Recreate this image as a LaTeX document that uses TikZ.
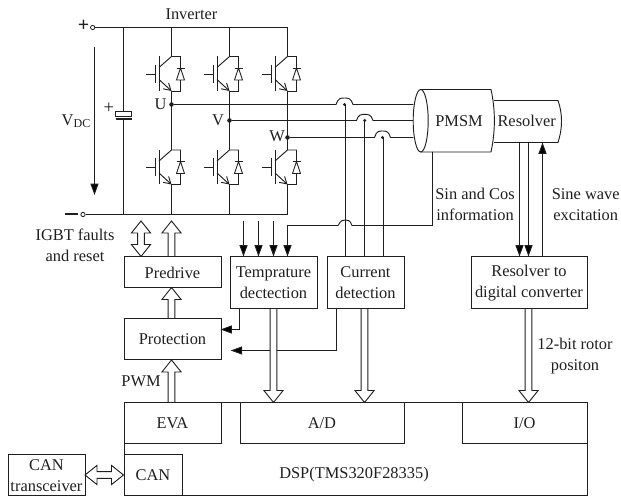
\documentclass[tikz,border=0pt]{standalone}
\usepackage{fontspec}
\setmainfont{Liberation Serif}
\usetikzlibrary{arrows.meta,calc}
\definecolor{ink}{gray}{0.12}
\tikzset{
  x=0.75pt,y=-0.75pt,
  wire/.style={draw=ink,line width=0.7pt},
  tipw/.style={wire,-{Triangle[length=8.5pt,width=6pt,fill=black]}},
  block/.style={draw=ink,line width=0.7pt,fill=white,inner sep=0pt,anchor=north west,align=center},
  lbl/.style={draw=none,inner sep=0pt,align=center,text=ink,font=\fontsize{12.3}{15.8}\selectfont},
  hol/.style={draw=ink,line width=0.7pt,fill=white,line join=miter},
  jdot/.style={circle,fill=ink,draw=none,inner sep=0pt,minimum size=3.4pt},
  term/.style={circle,fill=white,draw=ink,line width=0.6pt,inner sep=0pt,minimum size=3.2pt},
}
% hollow single arrow from #1 to #2
\newcommand\hollowone[2]{%
  \draw[hol] ($#1!2.5pt!90:#2$) -- ($($#2!9pt!#1$)!2.5pt!-90:#1$) -- ($($#2!9pt!#1$)!7.2pt!-90:#1$) -- #2 --
   ($($#2!9pt!#1$)!7.2pt!90:#1$) -- ($($#2!9pt!#1$)!2.5pt!90:#1$) -- ($#1!2.5pt!-90:#2$) -- cycle;}
% hollow double arrow between #1 and #2
\newcommand\hollowtwo[2]{%
  \draw[hol] #1 -- ($($#1!9pt!#2$)!7.2pt!90:#2$) -- ($($#1!9pt!#2$)!2.5pt!90:#2$) -- ($($#2!9pt!#1$)!2.5pt!-90:#1$) -- ($($#2!9pt!#1$)!7.2pt!-90:#1$) -- #2 --
   ($($#2!9pt!#1$)!7.2pt!90:#1$) -- ($($#2!9pt!#1$)!2.5pt!90:#1$) -- ($($#1!9pt!#2$)!2.5pt!-90:#2$) -- ($($#1!9pt!#2$)!7.2pt!-90:#2$) -- cycle;}
% IGBT with its diode: #1 is the collector top point
\newcommand\igbt[1]{%
\begin{scope}[shift={#1}]
  \draw[wire] (-26,17.5) -- (-16,17.5) (-16,8.5) -- (-16,26.5);
  \draw[wire] (-12.5,0) -- (-12.5,34.5);
  \draw[wire] (-12.5,11) -- (0,0) -- (9,0) -- (9,11.5);
  \draw[wire,-{Straight Barb[length=5pt,width=6pt]}] (-12.5,23) -- (0,34.5);
  \draw[wire] (0,34.5) -- (9,34.5) -- (9,23.5);
  \draw[wire] (5,11.5) -- (13,11.5);
  \draw[wire] (9,11.5) -- (5,23.5) -- (13,23.5) -- cycle;
\end{scope}}
\begin{document}
\begin{tikzpicture}
\useasboundingbox (0,0) rectangle (621,498);
% power rails
\node[term] (tp) at (92.7,27.5) {};
\node[term] (tn) at (83,214.5) {};
\coordinate (railtr) at (287.5,27.5);
\coordinate (railbr) at (287.5,214.5);
\draw[wire] (tp) -- (railtr) -- (287.5,56.5);
\draw[wire] (tn) -- (railbr);
\draw[wire] (171.5,27.5) -- (171.5,56.5) (229.5,27.5) -- (229.5,56.5);
\draw[wire] (171.5,91) -- (171.5,150) (229.5,91) -- (229.5,150) (287.5,91) -- (287.5,150);
\draw[wire] (171.5,184.5) -- (171.5,214.5) (229.5,184.5) -- (229.5,214.5) (287.5,184.5) -- (287.5,214.5);
\igbt{(171.5,56.5)}\igbt{(229.5,56.5)}\igbt{(287.5,56.5)}
\igbt{(171.5,150)}\igbt{(229.5,150)}\igbt{(287.5,150)}
% capacitor
\draw[wire] (123.5,27.5) -- (123.5,111.5);
\draw[hol] (115.5,111.5) rectangle (131.5,116);
\draw[wire,line width=1pt] (115.5,119) -- (131.5,119);
\draw[wire] (123.5,119) -- (123.5,214.5);
% labels of the power stage
\node[lbl] (linv) at (191.5,14) {Inverter};
\node[lbl,font=\fontsize{15}{15}\selectfont\bfseries] (lp) at (83.5,25.5) {+};
\node[lbl,font=\fontsize{14}{14}\selectfont] (lcp) at (109,108) {+};
\draw[wire,line width=1.6pt] (65,214.4) -- (78,214.4);
\node[lbl] (lvdc) at (76,121) {V\raisebox{-0.25ex}{\fontsize{9}{9}\selectfont DC}};
\coordinate (va) at (94.5,46.7);
\coordinate (vb) at (94.5,195);
\draw[tipw] (va) -- (vb);
\node[lbl] (lu) at (160.5,104) {U};
\node[lbl] (lv) at (218,120.5) {V};
\node[lbl] (lw) at (277,136) {W};
% motor
\coordinate (mtl) at (420.7,89.5);
\coordinate (mbl) at (420.7,152);
\draw[wire] (494,100.5) -- (558,100.5) .. controls (562.7,114) and (562.7,128) .. (558,142.5) -- (494,142.5);
\draw[wire] (mtl) -- (491,89.5) .. controls (495.5,110) and (495.5,131) .. (491,152) -- (mbl);
\draw[wire] (420.7,120.75) ellipse [x radius=7.5,y radius=31.25];
\node[lbl] (lpmsm) at (459,121) {PMSM};
\node[lbl] (lres) at (526.7,121) {Resolver};
% phase wires with hops
\node[jdot] (du) at (171.5,104.5) {};
\node[jdot] (dv) at (229.5,120.5) {};
\node[jdot] (dw) at (287.5,137.5) {};
\draw[wire] (du) -- (336,104.5) .. controls (338,98) and (341,98) .. (344.5,98) .. controls (348,98) and (351,98) .. (353,104.5) -- (413.4,104.5);
\draw[wire] (dv) -- (356.5,120.5) .. controls (358.5,114.4) and (361,114.4) .. (364.7,114.4) .. controls (368.5,114.4) and (371,114.4) .. (373,120.5) -- (413.2,120.5);
\draw[wire] (dw) -- (374.5,137.5) .. controls (376.5,131) and (379,131) .. (382.5,131) .. controls (386,131) and (388.5,131) .. (390.5,137.5) -- (413.4,137.5);
% blocks
\node[block,minimum width=97*0.75pt,minimum height=31*0.75pt] (predrive) at (123.5,256.5) {};
\node[lbl] at (predrive.center) {Predrive};
\node[block,minimum width=97*0.75pt,minimum height=41*0.75pt] (protection) at (123.5,318.5) {};
\node[lbl] at (protection.center) {Protection};
\node[block,minimum width=87*0.75pt,minimum height=52*0.75pt] (temp) at (229.5,256.5) {};
\node[lbl] at (temp.center) {Temprature\\dectection};
\node[block,minimum width=77*0.75pt,minimum height=52*0.75pt] (cur) at (326.5,256.5) {};
\node[lbl] at (cur.center) {Current\\detection};
\node[block,minimum width=116*0.75pt,minimum height=52*0.75pt] (rdc) at (470.5,256.5) {};
\node[lbl] at (rdc.center) {Resolver to\\digital converter};
\node[block,minimum width=463*0.75pt,minimum height=93*0.75pt] (dsp) at (123.5,402.5) {};
\node[lbl] at (354,475) {DSP(TMS320F28335)};
\node[block,minimum width=97*0.75pt,minimum height=41*0.75pt] (eva) at (123.5,402.5) {};
\node[lbl] at (eva.center) {EVA};
\node[block,minimum width=164*0.75pt,minimum height=41*0.75pt] (ad) at (239.5,402.5) {};
\node[lbl] at (ad.center) {A/D};
\node[block,minimum width=125*0.75pt,minimum height=41*0.75pt] (io) at (461.5,402.5) {};
\node[lbl] at (io.center) {I/O};
\node[block,minimum width=58*0.75pt,minimum height=41*0.75pt] (can) at (123.5,454.5) {};
\node[lbl] at (can.center) {CAN};
\node[block,minimum width=77*0.75pt,minimum height=41*0.75pt] (tr) at (7.5,454.5) {};
\node[lbl] at (tr.center) {CAN\\transceiver};
% sensing wires
\draw[wire] (345.5,104.5) -- (345.5,256.5);
\draw[wire] (364.5,120.5) -- (364.5,256.5);
\draw[wire] (383.5,137.5) -- (383.5,256.5);
\node[jdot,minimum size=2.5pt] at (344.5,104.5) {};
\node[jdot,minimum size=2.5pt] at (364.7,120.5) {};
\node[jdot,minimum size=2.5pt] at (382.5,137.5) {};
\draw[wire] (432.5,152) -- (432.5,225.5) -- (352,225.5) .. controls (350,220) and (348,220) .. (345.5,220) .. controls (343,220) and (341,220) .. (338,225.5) -- (287.5,225.5);
\draw[tipw] (287.5,225.5) -- (287.5,256.5);
\draw[tipw] (243.5,221) -- (243.5,256.5);
\draw[tipw] (258.5,221) -- (258.5,256.5);
\draw[tipw] (273.5,221) -- (273.5,256.5);
\draw[tipw] (239.5,308.5) -- (239.5,329.5) -- (220.5,329.5);
\draw[tipw] (336.5,308.5) -- (336.5,350.5) -- (230.7,350.5);
% resolver wires
\draw[tipw] (519.5,142.5) -- (519.5,256.5);
\draw[tipw] (528.5,142.5) -- (528.5,256.5);
\draw[tipw] (542.5,256.5) -- (542.5,142.5);
% hollow arrows
\hollowtwo{(141,221)}{(141,256.5)}
\hollowone{(171.5,256.5)}{(171.5,221)}
\hollowone{(171.5,318.5)}{(171.5,287.5)}
\hollowone{(171.5,402.5)}{(171.5,360)}
\hollowone{(273.5,308.5)}{(273.5,402.5)}
\hollowone{(364.5,308.5)}{(364.5,402.5)}
\hollowone{(528.5,308.5)}{(528.5,402.5)}
\hollowtwo{(85,475)}{(123.5,475)}
% text labels
\node[lbl] at (75,245) {IGBT faults\\and reset};
\node[lbl] at (141,381) {PWM};
\node[lbl] at (475,204.5) {Sin and Cos\\information};
\node[lbl] at (585.7,204.5) {Sine wave\\excitation};
\node[lbl] at (575,356) {12-bit rotor\\positon};
\end{tikzpicture}
\end{document}
